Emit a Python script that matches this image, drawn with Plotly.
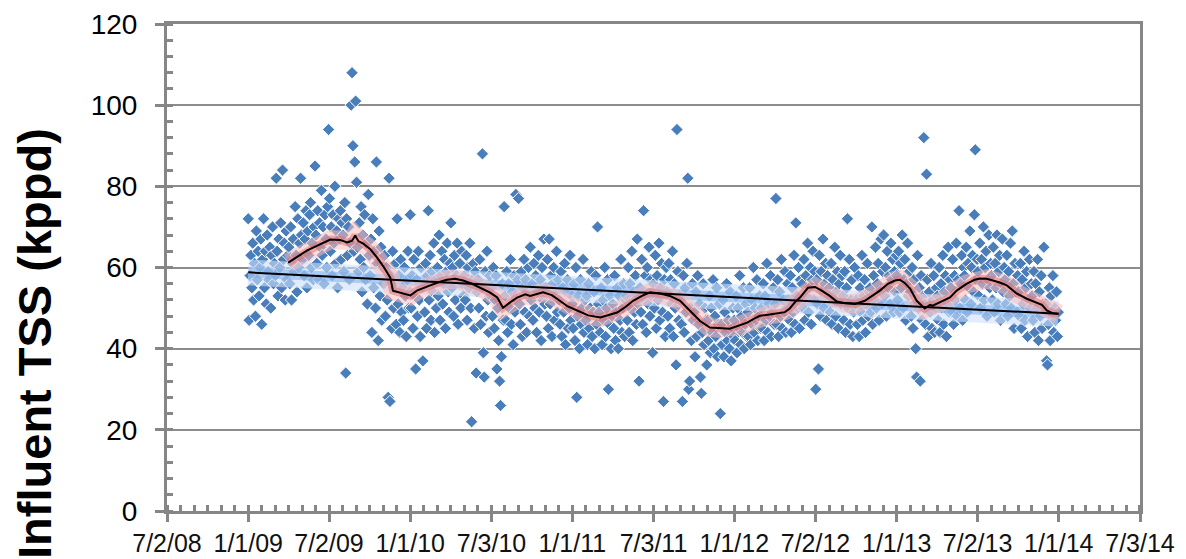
import pandas as pd
import plotly.graph_objects as go

# Influent TSS load (kppd), roughly every other day, one row per month
tss_2009 = [
    72, 47, 58, 63, 55, 66, 52, 61, 48, 69, 57, 64, 53, 60, 67,
    46, 62, 72, 55, 64, 51, 68, 59, 57, 65, 50, 63, 70, 56, 61,
    58, 82, 64, 53, 67, 60, 71, 55, 84, 62, 66, 52, 69, 57, 63,
    65, 56, 70, 52, 61, 67, 59, 75, 63, 54, 72, 60, 66, 82, 68,
    62, 71, 58, 67, 74, 55, 69, 63, 73, 76, 60, 66, 57, 70, 85,
    68, 61, 74, 57, 71, 65, 79, 63, 70, 56, 73, 67, 60, 75, 94,
    77, 64, 70, 58, 73, 66, 80, 61, 69, 55, 72, 67, 74, 62, 71,
    68, 59, 76, 34, 72, 63, 70, 57, 66, 100, 108, 90, 64, 86, 101,
    81, 65, 59, 71, 62, 75, 54, 68, 60, 73, 57, 66, 51, 78, 63,
    58, 67, 44, 72, 55, 64, 50, 86, 61, 42, 69, 53, 65, 47, 60,
    56, 63, 48, 60, 52, 28, 82, 27, 58, 45, 64, 50, 55, 61, 46,
    72, 51, 58, 44, 62, 49, 55, 47, 60, 53, 43, 57, 64, 50, 54,
]
tss_2010 = [
    73, 50, 58, 45, 62, 53, 35, 57, 48, 64, 52, 43, 60, 55, 37,
    56, 49, 61, 45, 58, 74, 52, 63, 47, 59, 54, 66, 44, 57, 50,
    60, 53, 68, 47, 58, 64, 51, 56, 62, 45, 59, 66, 54, 49, 61,
    71, 55, 60, 48, 63, 52, 58, 66, 46, 57, 61, 50, 64, 56, 53,
    58, 52, 63, 47, 60, 55, 66, 50, 22, 57, 61, 45, 59, 34, 54,
    57, 50, 62, 46, 55, 88, 39, 33, 59, 48, 64, 52, 44, 58, 53,
    55, 48, 60, 45, 52, 58, 35, 50, 42, 32, 26, 38, 56, 47, 75,
    53, 47, 59, 44, 56, 50, 62, 46, 54, 41, 58, 49, 78, 52, 57,
    77, 51, 46, 59, 43, 55, 62, 49, 57, 44, 53, 60, 48, 65, 52,
    56, 47, 61, 50, 58, 44, 54, 63, 49, 57, 42, 60, 52, 67, 51,
    55, 48, 62, 45, 67, 51, 58, 43, 56, 60, 47, 53, 64, 49, 57,
    52, 46, 59, 43, 55, 49, 61, 41, 54, 57, 45, 50, 63, 47, 53,
]
tss_2011 = [
    51, 45, 56, 42, 60, 28, 48, 53, 40, 57, 46, 50, 62, 44, 52,
    47, 53, 41, 56, 45, 50, 59, 43, 49, 54, 40, 58, 46, 70, 51,
    49, 44, 55, 41, 52, 47, 60, 43, 50, 57, 30, 46, 53, 40, 48,
    51, 45, 58, 42, 49, 55, 40, 53, 47, 62, 44, 50, 56, 43, 52,
    53, 47, 60, 44, 56, 50, 64, 42, 54, 49, 58, 46, 67, 51, 32,
    55, 49, 62, 46, 74, 52, 58, 44, 60, 51, 65, 48, 57, 53, 39,
    56, 50, 63, 45, 58, 52, 66, 47, 55, 61, 49, 27, 57, 43, 60,
    54, 48, 61, 45, 57, 51, 64, 43, 56, 50, 36, 94, 59, 47, 53,
    52, 46, 27, 58, 44, 55, 49, 61, 82, 30, 32, 50, 42, 56, 47,
    49, 38, 54, 43, 58, 46, 51, 33, 29, 44, 56, 41, 50, 47, 36,
    47, 42, 53, 39, 50, 44, 57, 40, 48, 43, 55, 38, 46, 51, 24,
    46, 41, 52, 38, 49, 44, 56, 42, 47, 40, 54, 37, 45, 50, 43,
]
tss_2012 = [
    47, 42, 53, 39, 50, 45, 58, 41, 48, 44, 55, 40, 46, 51, 43,
    49, 43, 55, 41, 52, 46, 60, 44, 50, 47, 57, 42, 48, 53, 45,
    50, 45, 56, 42, 53, 47, 61, 44, 51, 48, 58, 43, 49, 55, 46,
    51, 77, 46, 57, 43, 54, 48, 62, 45, 52, 49, 59, 44, 50, 56,
    52, 47, 58, 44, 55, 49, 63, 46, 71, 53, 50, 60, 45, 57, 51,
    56, 50, 62, 47, 58, 53, 66, 49, 55, 60, 46, 57, 64, 52, 59,
    30, 57, 51, 35, 63, 48, 59, 54, 67, 50, 56, 61, 47, 58, 53,
    55, 49, 61, 46, 57, 52, 65, 48, 54, 59, 45, 56, 63, 51, 58,
    53, 47, 59, 44, 55, 72, 50, 62, 46, 52, 57, 43, 49, 60, 51,
    52, 46, 58, 43, 55, 49, 63, 47, 53, 57, 44, 51, 61, 48, 54,
    55, 49, 70, 46, 58, 52, 65, 50, 56, 61, 47, 54, 67, 51, 59,
    68, 53, 60, 48, 64, 55, 58, 51, 66, 57, 62, 49, 59, 54, 63,
]
tss_2013 = [
    58, 52, 64, 49, 61, 55, 68, 50, 57, 62, 47, 56, 66, 53, 59,
    54, 48, 60, 45, 57, 51, 40, 33, 63, 50, 55, 32, 58, 47, 53,
    92, 51, 46, 83, 57, 43, 54, 49, 61, 45, 52, 58, 44, 50, 55,
    53, 47, 60, 44, 56, 50, 63, 46, 54, 58, 43, 51, 65, 49, 57,
    55, 49, 62, 46, 58, 52, 66, 48, 57, 74, 50, 56, 63, 47, 60,
    58, 52, 65, 49, 61, 55, 69, 51, 60, 63, 54, 73, 89, 57, 62,
    59, 53, 66, 50, 62, 56, 70, 52, 60, 64, 48, 57, 68, 55, 61,
    58, 52, 65, 49, 61, 55, 68, 51, 59, 63, 47, 56, 67, 54, 60,
    57, 51, 63, 48, 59, 53, 66, 50, 69, 56, 45, 61, 54, 49, 58,
    54, 48, 61, 45, 57, 51, 64, 47, 55, 59, 43, 52, 62, 50, 56,
    53, 47, 59, 44, 56, 50, 62, 42, 54, 48, 58, 45, 51, 65, 49,
    51, 37, 36, 46, 55, 42, 53, 48, 58, 44, 50, 47, 54, 43, 49,
]
tss_by_year = {2009: tss_2009, 2010: tss_2010, 2011: tss_2011,
               2012: tss_2012, 2013: tss_2013}

# Moving average of the load
ma_dates = [
    "2009-04-01", "2009-04-21", "2009-05-14", "2009-06-08", "2009-07-05",
    "2009-07-27", "2009-08-12", "2009-08-23", "2009-08-30", "2009-09-06",
    "2009-09-17", "2009-10-03", "2009-10-18", "2009-11-03", "2009-11-17",
    "2009-11-23", "2009-12-09", "2009-12-20", "2010-01-01", "2010-01-16",
    "2010-01-30", "2010-02-15", "2010-03-09", "2010-03-25", "2010-04-12",
    "2010-04-30", "2010-05-20", "2010-06-07", "2010-06-30", "2010-07-16",
    "2010-07-29", "2010-08-14", "2010-08-30", "2010-09-17", "2010-09-28",
    "2010-10-27", "2010-11-16", "2010-12-04", "2010-12-22", "2011-01-12",
    "2011-02-06", "2011-03-05", "2011-03-23", "2011-04-12", "2011-04-30",
    "2011-05-18", "2011-06-07", "2011-06-25", "2011-07-18", "2011-08-09",
    "2011-09-01", "2011-09-16", "2011-09-30", "2011-10-16", "2011-11-07",
    "2011-11-30", "2011-12-22", "2012-01-14", "2012-01-30", "2012-02-17",
    "2012-02-28", "2012-03-21", "2012-04-06", "2012-04-24", "2012-05-05",
    "2012-05-17", "2012-05-28", "2012-06-15", "2012-07-01", "2012-07-16",
    "2012-08-03", "2012-08-19", "2012-09-06", "2012-09-29", "2012-10-21",
    "2012-11-06", "2012-11-24", "2012-12-12", "2012-12-28", "2013-01-08",
    "2013-01-19", "2013-01-31", "2013-02-15", "2013-03-05", "2013-03-17",
    "2013-03-23", "2013-04-15", "2013-05-01", "2013-05-16", "2013-06-08",
    "2013-06-26", "2013-07-07", "2013-07-23", "2013-08-05", "2013-08-21",
    "2013-09-06", "2013-09-28", "2013-10-21", "2013-11-13", "2013-11-24",
    "2013-12-05", "2013-12-19", "2014-01-01",
]
ma_values = [
    61.2, 62.5, 64.2, 65.5, 66.9,
    66.8, 66.2, 66.6, 67.9, 66.5,
    65.9, 64.5, 62.5, 60.0, 57.5,
    54.3, 53.8, 53.3, 53.1, 54.3,
    55.0, 55.6, 56.5, 57.0, 57.2,
    56.8, 56.0, 55.1, 53.8, 52.6,
    50.1, 51.4, 52.6, 53.4, 53.0,
    53.9, 53.2, 51.8, 50.4, 49.4,
    48.2, 47.7, 48.2, 48.9, 50.2,
    51.8, 53.0, 53.9, 53.6, 53.0,
    51.8, 50.2, 48.6, 46.8, 45.2,
    45.0, 44.9, 45.8, 46.4, 47.5,
    48.1, 48.4, 48.6, 49.0, 49.9,
    51.5, 52.6, 55.0, 55.2, 54.3,
    53.0, 51.6, 51.2, 51.0, 51.8,
    53.0, 54.3, 56.0, 56.8, 57.0,
    56.2, 54.8, 51.8, 49.9, 50.8,
    50.6, 51.8, 52.6, 54.3, 56.0,
    57.0, 57.3, 57.2, 56.8, 56.3,
    55.6, 53.6, 52.3, 51.4, 50.8,
    49.4, 48.7, 48.6,
]

# Linear trend end points
trend_dates = ["2009-01-01", "2013-12-31"]
trend_values = [58.8, 48.6]

# Axis ticks
x_tick_dates = [
    "2008-07-02", "2009-01-01", "2009-07-02", "2010-01-01", "2010-07-03",
    "2011-01-01", "2011-07-03", "2012-01-01", "2012-07-02", "2013-01-01",
    "2013-07-02", "2014-01-01", "2014-07-03",
]
x_tick_labels = [
    "7/2/08", "1/1/09", "7/2/09", "1/1/10", "7/3/10", "1/1/11", "7/3/11",
    "1/1/12", "7/2/12", "1/1/13", "7/2/13", "1/1/14", "7/3/14",
]
y_tick_values = [0, 20, 40, 60, 80, 100, 120]

dates, values = [], []
for year, vals in tss_by_year.items():
    dates.extend(pd.date_range(f"{year}-01-01", f"{year}-12-31", periods=len(vals)))
    values.extend(vals)

AXIS_GRAY = "#868686"
fig = go.Figure()

fig.add_trace(go.Scatter(
    x=dates, y=values, mode="markers",
    marker=dict(symbol="diamond", size=9.5, color="#4A7EBB",
                line=dict(color="white", width=1)),
    hoverinfo="skip",
))

# soft halo under the trend line
fig.add_trace(go.Scatter(x=trend_dates, y=trend_values, mode="lines",
                         line=dict(color="rgba(205,225,250,0.6)", width=26)))
fig.add_trace(go.Scatter(x=trend_dates, y=trend_values, mode="lines",
                         line=dict(color="rgba(120,170,235,0.5)", width=10)))
# soft halo under the moving average
fig.add_trace(go.Scatter(x=ma_dates, y=ma_values, mode="lines",
                         line=dict(color="rgba(248,190,190,0.55)", width=19)))
fig.add_trace(go.Scatter(x=ma_dates, y=ma_values, mode="lines",
                         line=dict(color="rgba(225,105,105,0.5)", width=8)))

fig.add_trace(go.Scatter(x=trend_dates, y=trend_values, mode="lines",
                         line=dict(color="black", width=2)))
fig.add_trace(go.Scatter(x=ma_dates, y=ma_values, mode="lines",
                         line=dict(color="black", width=2)))

fig.update_layout(
    width=1186, height=559,
    margin=dict(l=167, r=46, t=24, b=48),
    paper_bgcolor="white", plot_bgcolor="white",
    showlegend=False,
    font=dict(family="Liberation Sans, Arial, sans-serif", color="black"),
    xaxis=dict(
        type="date", automargin=False,
        range=["2008-07-02", "2014-07-03"],
        tickmode="array", tickvals=x_tick_dates, ticktext=x_tick_labels,
        tickfont=dict(family="Liberation Sans Narrow, Arial Narrow, Liberation Sans",
                      size=25, color="#111111"),
        ticks="outside", ticklen=8, tickwidth=3, tickcolor=AXIS_GRAY,
        minor=dict(ticks="inside", ticklen=6, tickwidth=3, tickcolor=AXIS_GRAY,
                   tick0="2008-07-02", dtick=2630016000, showgrid=False),
        showline=True, linewidth=3, linecolor=AXIS_GRAY, mirror=True,
        showgrid=False, zeroline=False,
    ),
    yaxis=dict(
        range=[0, 120], automargin=False,
        tickmode="array", tickvals=y_tick_values,
        tickfont=dict(size=28, color="black"),
        ticks="outside", ticklen=9, tickwidth=3, tickcolor=AXIS_GRAY,
        ticklabelstandoff=12,
        minor=dict(ticks="inside", ticklen=6, tickwidth=3, tickcolor=AXIS_GRAY,
                   dtick=4, showgrid=False),
        showline=True, linewidth=3, linecolor=AXIS_GRAY, mirror=True,
        showgrid=True, gridcolor="#8C8C8C", gridwidth=2, zeroline=False,
    ),
    annotations=[dict(
        text="<b>Influent TSS (kppd)</b>",
        textangle=-90, xref="paper", yref="paper",
        x=-0.1357, y=0.345, xanchor="center", yanchor="middle",
        showarrow=False, font=dict(size=47, color="black"),
    )],
)

fig.write_html("out.html")
